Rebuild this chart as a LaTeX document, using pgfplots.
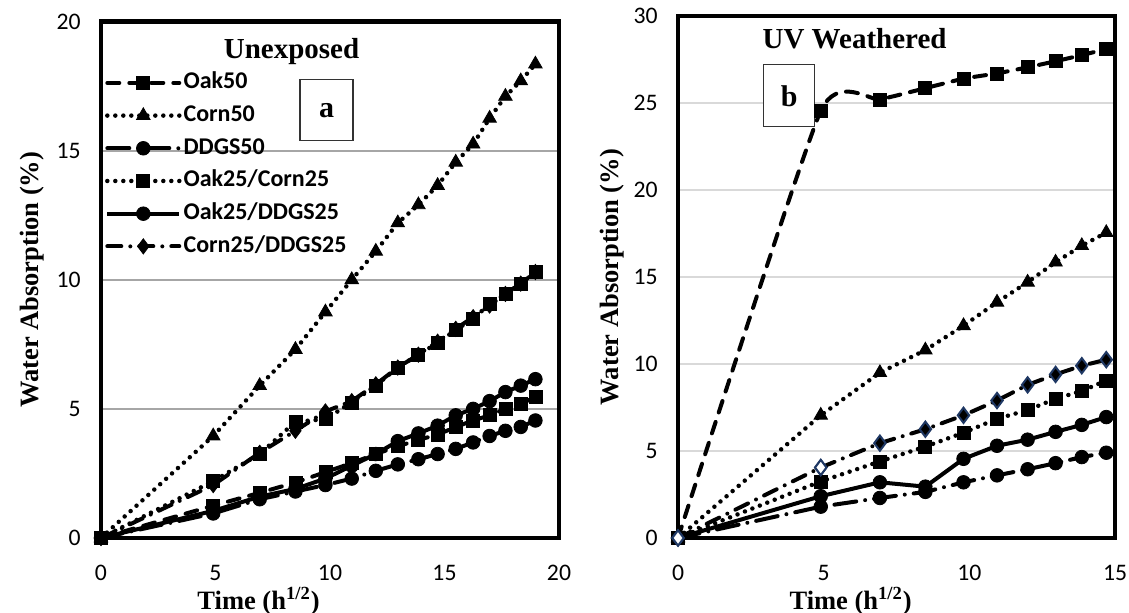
\documentclass[border=0pt]{standalone}
\usepackage{fontspec}
\setmainfont{Liberation Serif}
\newfontfamily\calibri{Carlito}
\usepackage{pgfplots}
\pgfplotsset{compat=1.18}
\usepackage{pgfplotstable}

\definecolor{gridA}{HTML}{A6A6A6}
\definecolor{gridB}{HTML}{D9D9D9}
\definecolor{navyc}{HTML}{1F3864}

% water absorption (%) vs time (h^1/2)
\pgfplotstableread{
t      oak50 corn50 ddgs50 oakcorn oakddgs cornddgs
0      0     0      0      0       0       0
4.90   1.25  3.95   0.95   2.20    1.05    2.05
6.93   1.75  5.90   1.50   3.25    1.60    3.30
8.49   2.15  7.30   1.80   4.50    1.90    4.15
9.80   2.55  8.75   2.05   4.60    2.30    4.90
10.95  2.90  10.00  2.30   5.25    2.80    5.30
12.00  3.25  11.10  2.60   5.90    3.25    5.95
12.96  3.55  12.20  2.85   6.60    3.75    6.60
13.86  3.80  12.90  3.05   7.10    4.05    7.10
14.70  4.00  13.65  3.25   7.55    4.35    7.60
15.49  4.30  14.55  3.45   8.05    4.75    8.10
16.25  4.55  15.25  3.70   8.50    5.00    8.55
16.97  4.75  16.25  3.95   9.05    5.30    9.00
17.66  5.00  17.10  4.15   9.45    5.65    9.45
18.33  5.20  17.70  4.30   9.85    5.90    9.85
18.97  5.45  18.35  4.55   10.30   6.15    10.30
}\unexposed

\pgfplotstableread{
t      oak50 corn50 ddgs50 oakcorn oakddgs cornddgs
0      0      0      0      0      0       0
4.90   24.55  7.05   1.80   3.25   2.40    4.05
6.93   25.20  9.50   2.30   4.40   3.20    5.45
8.49   25.85  10.80  2.65   5.25   2.95    6.25
9.80   26.40  12.20  3.20   6.05   4.55    7.05
10.95  26.70  13.55  3.60   6.85   5.30    7.90
12.00  27.05  14.70  3.95   7.35   5.65    8.80
12.96  27.40  15.85  4.30   8.00   6.10    9.40
13.86  27.75  16.80  4.65   8.45   6.50    9.90
14.70  28.10  17.55  4.90   9.05   6.95    10.25
}\weathered

\pgfplotsset{
  wa/.style={
    scale only axis, clip=false, anchor=south west,
    tick style={draw=none}, major tick length=0pt,
    ymajorgrids,
    /pgf/number format/assume math mode=true,
    ticklabel style={font=\calibri\fontsize{11.85}{14}\selectfont, inner sep=0pt},
    xticklabel style={anchor=center, yshift=-17.5pt},
    yticklabel style={anchor=east, xshift=-10pt},
    label style={font=\bfseries\fontsize{13.25}{16}\selectfont},
    xlabel={Time (h\textsuperscript{1/2})},
    ylabel={Water Absorption (\%)},
  },
  sq/.style={mark=square*, mark size=3.25pt},
  tri/.style={mark=triangle*, mark size=3.9pt},
  circ/.style={mark=*, mark size=3.4pt},
  dia/.style={mark=diamond*, mark size=3.8pt},
  s-oak50/.style={black, line width=2pt, line cap=round, dash pattern=on 6pt off 5pt, sq, mark options={solid, line width=0.4pt}},
  s-corn50/.style={black, line width=2.25pt, line cap=round, dash pattern=on 0pt off 4pt, tri, mark options={solid, line width=0.4pt}},
  s-ddgs50/.style={black, line width=2pt, line cap=round, dash pattern=on 11pt off 4.5pt on 0pt off 4.5pt, circ, mark options={solid, line width=0.4pt}},
  s-oakcorn/.style={black, line width=2.25pt, line cap=round, dash pattern=on 0pt off 4pt, sq, mark options={solid, line width=0.4pt}},
  s-oakddgs/.style={black, line width=2pt, solid, circ, mark options={solid, line width=0.4pt}},
  s-cornddgs/.style={black, line width=2pt, line cap=round, dash pattern=on 7pt off 4.5pt on 0pt off 4.5pt, dia, mark options={solid, line width=0.4pt}},
}

\begin{document}
\begin{tikzpicture}
\path[use as bounding box] (0,0) rectangle (564.5pt,306.5pt);

% (a) unexposed
\begin{axis}[wa,
  at={(50.5pt,37.5pt)}, width=229pt, height=258.25pt,
  xmin=0, xmax=20, ymin=0, ymax=20,
  xtick={0,5,...,20}, ytick={0,5,...,20},
  axis line style={line width=2.25pt},
  grid style={gridA, line width=0.9pt},
  xlabel style={at={(axis description cs:0.344,-0.122)}, anchor=center},
  ylabel style={at={(axis description cs:-0.15,0.5)}, anchor=center},
  legend cell align=left,
  legend image code/.code={\draw[mark repeat=2, mark phase=2, #1] plot coordinates {(0pt,0pt) (18pt,0pt) (36pt,0pt)};},
  legend style={draw=none, fill=none, inner sep=0pt, anchor=north west,
    at={(axis description cs:0.008,0.909)},
    font=\calibri\bfseries\fontsize{12}{14}\selectfont, row sep=2.35pt,
    nodes={inner sep=1pt, text height=9pt, text depth=3pt}},
]
\addplot[s-oak50] table[x=t, y=oak50] {\unexposed};
\addlegendentry{Oak50}
\addplot[s-corn50] table[x=t, y=corn50] {\unexposed};
\addlegendentry{Corn50}
\addplot[s-ddgs50] table[x=t, y=ddgs50] {\unexposed};
\addlegendentry{DDGS50}
\addplot[s-oakcorn] table[x=t, y=oakcorn] {\unexposed};
\addlegendentry{Oak25/Corn25}
\addplot[s-oakddgs] table[x=t, y=oakddgs] {\unexposed};
\addlegendentry{Oak25/DDGS25}
\addplot[s-cornddgs] table[x=t, y=cornddgs] {\unexposed};
\addlegendentry{Corn25/DDGS25}
\node[font=\bfseries\fontsize{14.5}{17}\selectfont] at (axis description cs:0.416,0.9415) {Unexposed};
\node[draw=black!80, line width=0.6pt, fill=white, minimum width=26.5pt, minimum height=30.5pt,
  font=\bfseries\fontsize{15}{18}\selectfont] at (axis description cs:0.4924,0.828) {a};
\end{axis}

% (b) UV weathered
\begin{axis}[wa,
  at={(339pt,37.5pt)}, width=218.5pt, height=261pt,
  xmin=0, xmax=15, ymin=0, ymax=30,
  xtick={0,5,...,15}, ytick={0,5,...,30},
  axis line style={line width=1.75pt},
  grid style={gridB, line width=0.9pt},
  xlabel style={at={(axis description cs:0.395,-0.121)}, anchor=center},
  ylabel style={at={(axis description cs:-0.151,0.5)}, anchor=center},
]
\addplot[s-oak50, smooth, tension=0.3] table[x=t, y=oak50] {\weathered};
\addplot[s-corn50] table[x=t, y=corn50] {\weathered};
\addplot[s-ddgs50] table[x=t, y=ddgs50] {\weathered};
\addplot[s-oakcorn] table[x=t, y=oakcorn] {\weathered};
\addplot[s-oakddgs] table[x=t, y=oakddgs] {\weathered};
\addplot[s-cornddgs, mark options={solid, fill=black, draw=navyc, line width=1pt}] table[x=t, y=cornddgs] {\weathered};
\addplot[only marks, dia, mark options={fill=white, draw=navyc, line width=1pt}] coordinates {(0,0) (4.90,4.05)};
\node[font=\bfseries\fontsize{14.5}{17}\selectfont] at (axis description cs:0.404,0.957) {UV Weathered};
\node[draw=black!80, line width=0.6pt, fill=white, minimum width=25.5pt, minimum height=31pt,
  font=\bfseries\fontsize{15}{18}\selectfont] at (axis description cs:0.2546,0.847) {b};
\end{axis}
\end{tikzpicture}
\end{document}
